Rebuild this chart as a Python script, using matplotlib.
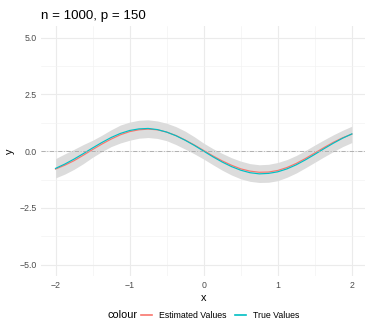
import matplotlib
matplotlib.use('Agg')
import matplotlib.pyplot as plt
from matplotlib.lines import Line2D
import numpy as np

# values
x = [-2.0, -1.875, -1.75, -1.625, -1.5, -1.375, -1.25, -1.125, -1.0, -0.875, -0.75,
     -0.625, -0.5, -0.375, -0.25, -0.125, 0.0, 0.125, 0.25, 0.375, 0.5, 0.625,
     0.75, 0.875, 1.0, 1.125, 1.25, 1.375, 1.5, 1.625, 1.75, 1.875, 2.0]
true_y = [-0.76, -0.57, -0.35, -0.11, 0.14, 0.38, 0.60, 0.78, 0.91, 0.98, 1.00,
          0.95, 0.84, 0.68, 0.48, 0.25, 0.00, -0.25, -0.48, -0.68, -0.84, -0.95,
          -1.00, -0.98, -0.91, -0.78, -0.60, -0.38, -0.14, 0.11, 0.35, 0.57, 0.76]
est_y = [-0.79, -0.62, -0.42, -0.18, 0.07, 0.31, 0.53, 0.72, 0.86, 0.94, 0.97,
         0.94, 0.84, 0.69, 0.49, 0.27, 0.03, -0.21, -0.43, -0.62, -0.78, -0.88,
         -0.93, -0.92, -0.85, -0.72, -0.54, -0.32, -0.08, 0.16, 0.39, 0.59, 0.75]
lower = [-1.18, -1.01, -0.80, -0.55, -0.27, -0.02, 0.20, 0.36, 0.48, 0.57, 0.60,
         0.56, 0.46, 0.29, 0.09, -0.12, -0.35, -0.60, -0.84, -1.05, -1.22, -1.33,
         -1.38, -1.37, -1.30, -1.15, -0.96, -0.73, -0.49, -0.25, -0.02, 0.20, 0.38]
upper = [-0.33, -0.12, 0.08, 0.29, 0.48, 0.70, 0.94, 1.15, 1.28, 1.36, 1.38,
         1.33, 1.23, 1.08, 0.88, 0.63, 0.35, 0.11, -0.10, -0.29, -0.44, -0.55,
         -0.60, -0.58, -0.50, -0.37, -0.19, 0.03, 0.27, 0.50, 0.72, 0.92, 1.10]

series = ['Estimated Values', 'True Values']
colors = ['#F8766D', '#00BFC4']

plt.rcParams['font.family'] = ['Liberation Sans', 'DejaVu Sans']

W, H = 365, 321
fig = plt.figure(figsize=(W / 100, H / 100), dpi=100)
# panel position in pixels
l, r, t, b = 40.7, 366.7, 26.3, 276.0
ax = fig.add_axes([l / W, 1 - b / H, (r - l) / W, (b - t) / H])

ax.fill_between(x, lower, upper, color='#DCDCDC', lw=0, zorder=2)
ax.plot(x, est_y, color=colors[0], lw=0.85, zorder=3)
ax.plot(x, true_y, color=colors[1], lw=0.85, zorder=4)
ax.axhline(0, color='#A8A8A8', lw=0.6, dashes=[5, 2, 1, 2], zorder=5)

ax.set_xlim(-2.2, 2.2)
ax.set_ylim(-5.5, 5.5)
ax.set_xticks([-2, -1, 0, 1, 2])
ax.set_xticklabels(['\u22122', '\u22121', '0', '1', '2'])
ax.set_yticks([-5, -2.5, 0, 2.5, 5])
ax.set_yticklabels(['\u22125.0', '\u22122.5', '0.0', '2.5', '5.0'])
ax.set_xticks([-1.5, -0.5, 0.5, 1.5], minor=True)
ax.set_yticks([-3.75, -1.25, 1.25, 3.75], minor=True)
ax.grid(which='major', color='#EBEBEB', lw=0.8, zorder=0)
ax.grid(which='minor', color='#F2F2F2', lw=0.45, zorder=0)
ax.set_axisbelow(True)
for s in ax.spines.values():
    s.set_visible(False)
ax.tick_params(which='both', length=0, labelsize=6.3, labelcolor='#4D4D4D')
ax.tick_params(axis='x', pad=3.5)
ax.tick_params(axis='y', pad=3)

ax.set_xlabel('x', fontsize=7.8, labelpad=2)
ax.set_ylabel('y', fontsize=7.8, labelpad=3)
ax.set_title('n = 1000, p = 150', fontsize=9.6, loc='left', pad=5)

fig.text(108 / W, 1 - 315.5 / H, 'colour', fontsize=7.8, va='center', ha='left')
handles = [Line2D([0], [0], color=c, lw=1.2) for c in colors]
fig.legend(handles, series, loc='center left', bbox_to_anchor=(141 / W, 1 - 315.5 / H),
           ncol=2, frameon=False, fontsize=6.3, handlelength=1.3, handletextpad=0.8,
           columnspacing=0.9, borderpad=0, borderaxespad=0)

fig.savefig('out.png', dpi=100)
